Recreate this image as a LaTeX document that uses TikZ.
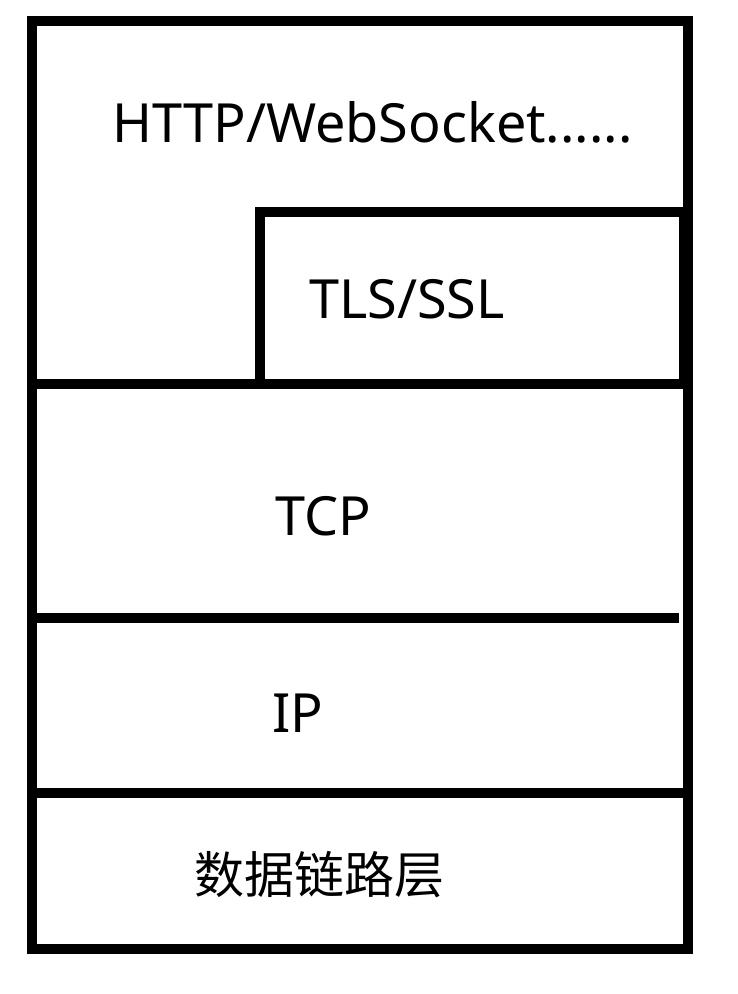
\documentclass[tikz,border=0pt]{standalone}
\usepackage{fontspec}
\setmainfont{Noto Sans}
\newfontfamily\cjkfont{Noto Sans CJK SC}
\begin{document}
\begin{tikzpicture}[x=1pt,y=-1pt,
  frame/.style={line width=10pt,draw=black},
  lbl/.style={font=\fontsize{54}{62}\selectfont, inner sep=0pt, anchor=base west},
  cjklbl/.style={font=\cjkfont\fontsize{50}{60}\selectfont, inner sep=0pt, anchor=west}]
\useasboundingbox[fill=white] (0,0) rectangle (738,994);
% outer frame
\draw[frame] (32,21) rectangle (688,949);
% TLS/SSL box
\draw[frame] (260,212) rectangle (684,384);
\draw[frame] (27,384) -- (260,384);
% layer dividers
\draw[frame] (32,618) -- (679,618);
\draw[frame] (32,793) -- (688,793);
% labels
\node[lbl] (http) at (112,142) {HTTP/WebSocket......};
\node[lbl] (tls) at (309,318) {TLS/SSL};
\node[lbl] (tcp) at (275,535) {TCP};
\node[lbl] (ip) at (272,732) {IP};
\node[cjklbl] (dl) at (194,875) {数据链路层};
\end{tikzpicture}
\end{document}
